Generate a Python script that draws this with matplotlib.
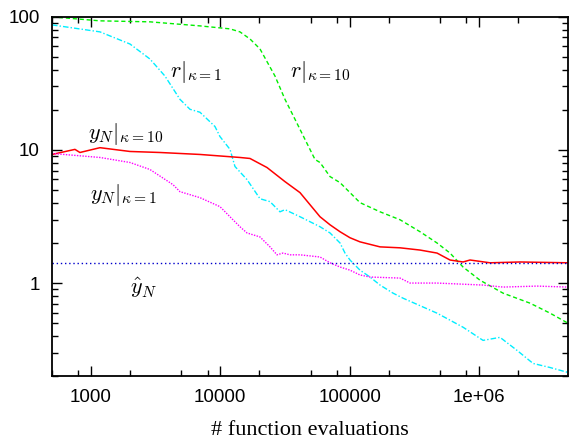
import numpy as np
from matplotlib import pyplot as plt
from matplotlib.ticker import LogLocator, NullFormatter, FixedLocator, FixedFormatter

# data (function evaluations, value)
r1_x = [500, 1174, 2003, 2860, 3735, 4878, 5832, 6966, 9100, 9947, 11890, 12990, 16090,
        20280, 24240, 28950, 31650, 41350, 59030, 70550, 84320, 92150, 100700, 120300, 143800,
        171900, 216700, 258800, 474300, 753400, 1.076e6, 1.456e6, 1.971e6, 2.621e6, 3.55e6, 4.89e6]
r1_y = [87.0, 77.1, 62.5, 48.2, 35.9, 24.0, 20.2, 19.2, 15.0, 12.6, 10.1, 7.51, 5.99,
        4.3, 4.09, 3.43, 3.56, 3.15, 2.65, 2.38, 2.00, 1.68, 1.49, 1.25, 1.11,
        0.966, 0.84, 0.77, 0.594, 0.466, 0.371, 0.391, 0.312, 0.249, 0.232, 0.213]

r10_x = [500, 1174, 2860, 6966, 11890, 14190, 16970, 20280, 26490, 31650, 37820, 45190, 54010,
         59030, 70550, 84320, 100700, 120300, 171900, 245400, 350400, 474300, 597600, 753400,
         1.02e6, 1.536e6, 2.485e6, 3.55e6, 4.89e6]
r10_y = [100, 93.3, 91.7, 85.5, 81.2, 77.1, 68.2, 57.4, 35.9, 24.0, 17.0, 12.0, 8.48,
         8.05, 6.31, 5.68, 4.78, 4.02, 3.43, 2.99, 2.43, 2.00, 1.68, 1.32,
         1.05, 0.84, 0.706, 0.594, 0.499]

y10_x = [500, 752, 822, 1174, 2003, 3418, 6966, 14190, 16970, 22970, 31650, 41350, 49400,
         59030, 70550, 84320, 100700, 120300, 171900, 245400, 350400, 474300, 597600, 753400,
         853500, 1.218e6, 2.08e6, 4.89e6]
y10_y = [9.25, 10.1, 9.57, 10.4, 9.74, 9.57, 9.25, 8.78, 8.63, 7.38, 5.78, 4.78, 3.88,
         3.15, 2.74, 2.43, 2.19, 2.04, 1.87, 1.84, 1.77, 1.68, 1.49, 1.44,
         1.49, 1.42, 1.44, 1.42]

y1_x = [500, 1174, 2003, 2860, 4305, 4878, 6966, 9947, 12530, 14190, 16090, 20280, 24240, 27450,
        30540, 34600, 41350, 59030, 70550, 84320, 100700, 120300, 143800, 245400, 293300, 474300,
        1.076e6, 1.536e6, 2.81e6, 4.89e6]
y1_y = [9.41, 8.78, 8.05, 7.13, 5.49, 4.86, 4.38, 3.75, 2.99, 2.65, 2.38, 2.22, 1.87, 1.63,
        1.68, 1.63, 1.63, 1.57, 1.42, 1.32, 1.25, 1.15, 1.11, 1.09, 1.00, 1.00,
        0.966, 0.933, 0.949, 0.933]

y_hat = 1.41

plt.rc('font', family='Liberation Sans', size=13.5)
plt.rc('mathtext', fontset='cm')

fig = plt.figure(figsize=(5.69, 4.43), dpi=100)
ax = fig.add_axes([0.0914, 0.151, 0.907, 0.811])

ax.plot(r10_x, r10_y, c='#00ee00', lw=1, ls=(0, (3, 2)))
ax.plot(r1_x, r1_y, c='#00eeff', lw=1, ls=(0, (4, 1.5, 1, 1.5)))
ax.plot(y10_x, y10_y, c='#ff0000', lw=1.1)
ax.plot(y1_x, y1_y, c='#ff00ff', lw=1, ls=(0, (1, 1)))
ax.axhline(y_hat, c='#0000cc', lw=1, ls=(0, (1, 2)))

ax.set_xscale('log')
ax.set_yscale('log')
ax.set_xlim(500, 4.89e6)
ax.set_ylim(0.2, 100)

ax.xaxis.set_major_locator(FixedLocator([1e3, 1e4, 1e5, 1e6]))
ax.xaxis.set_major_formatter(FixedFormatter(['1000', '10000', '100000', '1e+06']))
ax.xaxis.set_minor_locator(LogLocator(base=10, subs=[2, 5, 8], numticks=20))
ax.xaxis.set_minor_formatter(NullFormatter())
ax.yaxis.set_major_locator(FixedLocator([1, 10, 100]))
ax.yaxis.set_major_formatter(FixedFormatter(['1', '10', '100']))
ax.yaxis.set_minor_locator(LogLocator(base=10, subs=np.arange(2, 10), numticks=20))
ax.yaxis.set_minor_formatter(NullFormatter())

ax.tick_params(which='both', direction='in', top=True, right=True, width=1)
ax.tick_params(which='major', length=7, pad=9)
ax.tick_params(which='minor', length=4)
for s in ax.spines.values():
    s.set_linewidth(1.3)

ax.set_xlabel('# function evaluations', family='Liberation Serif', size=16, labelpad=11)

ax.text(4080, 38.5, r'$r|_{\kappa=1}$', size=16, va='center')
ax.text(34600, 38.5, r'$r|_{\kappa=10}$', size=16, va='center')
ax.text(950, 13.1, r'$y_N|_{\kappa=10}$', size=16, va='center')
ax.text(980, 4.6, r'$y_N|_{\kappa=1}$', size=16, va='center')
ax.text(2000, 0.92, r'$\hat{y}_N$', size=16, va='center')

plt.savefig('out.png', dpi=100)
